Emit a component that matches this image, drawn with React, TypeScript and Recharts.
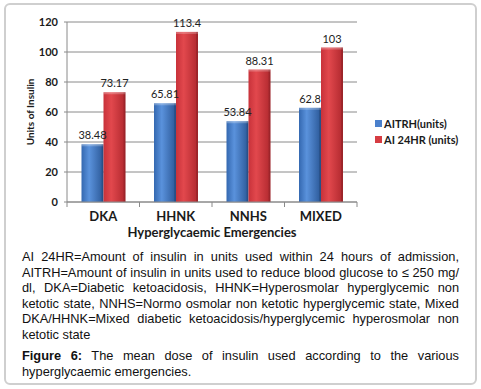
import { BarChart, Bar, XAxis, YAxis, CartesianGrid, LabelList, Label } from "recharts";

const categories = ["DKA", "HHNK", "NNHS", "MIXED"];
const aitrh = [38.48, 65.81, 53.84, 62.8];
const ai24hr = [73.17, 113.4, 88.31, 103];
const yTicks = [0, 20, 40, 60, 80, 100, 120];
const seriesNames = ["AITRH(units)", "AI 24HR (units)"];
const seriesColors = ["#4a80cc", "#d63c42"];

const data = categories.map((c, i) => ({ name: c, aitrh: aitrh[i], ai24hr: ai24hr[i] }));

const noteLines = [
  "AI 24HR=Amount of insulin in units used within 24 hours of admission,",
  "AITRH=Amount of insulin in units used to reduce blood glucose to ≤ 250 mg/",
  "dl, DKA=Diabetic ketoacidosis, HHNK=Hyperosmolar hyperglycemic non",
  "ketotic state, NNHS=Normo osmolar non ketotic hyperglycemic state, Mixed",
  "DKA/HHNK=Mixed diabetic ketoacidosis/hyperglycemic hyperosmolar non",
  "ketotic state",
];

const chartFont = "Lato, 'Open Sans', sans-serif";
const textFont = "'Liberation Sans', Arial, sans-serif";
const BAND = 290 / categories.length;

const CategoryTick = (props: any) => {
  const { x, y, payload, index } = props;
  const left = x - BAND / 2;
  return (
    <g>
      <line x1={left} x2={left} y1={y} y2={y + 5} stroke="#8a8a8a" />
      {index === categories.length - 1 && (
        <line x1={x + BAND / 2} x2={x + BAND / 2} y1={y} y2={y + 5} stroke="#8a8a8a" />
      )}
      <text x={x} y={y + 19} textAnchor="middle" fontFamily={chartFont} fontSize={13} fontWeight={700} fill="#1a1a1a">
        {payload.value}
      </text>
    </g>
  );
};

const Bar3D = (props: any) => {
  const { x, y, width, height, fill } = props;
  if (!height) return null;
  return (
    <g>
      <rect x={x} y={y} width={width} height={height} fill={fill} />
      <rect x={x} y={y} width={width} height={2} fill="#ffffff" fillOpacity={0.25} />
      <rect x={x + width - 2} y={y} width={2} height={height} fill="#000000" fillOpacity={0.12} />
    </g>
  );
};

const lineStyle = (last: boolean) => ({
  whiteSpace: "nowrap" as const,
  textAlign: (last ? "left" : "justify") as any,
  textAlignLast: (last ? "left" : "justify") as any,
});

export default function App() {
  return (
    <div style={{ position: "absolute", left: 0, top: 0, width: 481, height: 389, background: "#fff" }}>
      <div
        style={{
          position: "absolute",
          left: 4,
          top: 3,
          width: 469,
          height: 378,
          border: "2px solid #cfcfcf",
          borderRadius: 6,
        }}
      />
      <div style={{ position: "absolute", left: 0, top: 0 }}>
        <BarChart
          width={481}
          height={245}
          data={data}
          margin={{ top: 22, right: 124, bottom: 5, left: 37 }}
          barGap={0}
          barCategoryGap="20%"
        >
          <defs>
            <linearGradient id="blueGrad" x1="0" y1="0" x2="1" y2="0">
              <stop offset="0%" stopColor="#3468b0" />
              <stop offset="35%" stopColor="#5a92dc" />
              <stop offset="100%" stopColor="#2b5897" />
            </linearGradient>
            <linearGradient id="redGrad" x1="0" y1="0" x2="1" y2="0">
              <stop offset="0%" stopColor="#c8323a" />
              <stop offset="35%" stopColor="#e2484d" />
              <stop offset="100%" stopColor="#b0282e" />
            </linearGradient>
          </defs>
          <CartesianGrid vertical={false} stroke="#8a8a8a" />
          <XAxis
            dataKey="name"
            height={38}
            stroke="#8a8a8a"
            tickLine={false}
            tickSize={0}
            tickMargin={0}
            tick={<CategoryTick />}
            interval={0}
          >
            <Label
              value="Hyperglycaemic Emergencies"
              position="insideBottom"
              offset={3}
              style={{ fontFamily: chartFont, fontSize: 13, fontWeight: 700, fill: "#1a1a1a" }}
            />
          </XAxis>
          <YAxis
            width={30}
            domain={[0, 120]}
            ticks={yTicks}
            stroke="#8a8a8a"
            tickSize={3}
            tickMargin={6}
            tick={{ fontFamily: chartFont, fontSize: 11, fontWeight: 700, fill: "#1a1a1a" }}
          >
            <Label
              value="Units of Insulin"
              angle={-90}
              position="center"
              dx={-22}
              style={{ fontFamily: chartFont, fontSize: 10, fontWeight: 700, fill: "#1a1a1a" }}
            />
          </YAxis>
          <Bar dataKey="aitrh" name={seriesNames[0]} fill="url(#blueGrad)" shape={<Bar3D />} isAnimationActive={false}>
            <LabelList dataKey="aitrh" position="top" style={{ fontFamily: chartFont, fontSize: 11, fill: "#222" }} />
          </Bar>
          <Bar dataKey="ai24hr" name={seriesNames[1]} fill="url(#redGrad)" shape={<Bar3D />} isAnimationActive={false}>
            <LabelList dataKey="ai24hr" position="top" style={{ fontFamily: chartFont, fontSize: 11, fill: "#222" }} />
          </Bar>
        </BarChart>
      </div>
      <div
        style={{
          position: "absolute",
          left: 375,
          top: 115,
          fontFamily: chartFont,
          fontSize: 11,
          fontWeight: 700,
          color: "#1a1a1a",
        }}
      >
        {seriesNames.map((n, i) => (
          <div key={n} style={{ display: "flex", alignItems: "center", height: 16 }}>
            <span style={{ width: 7, height: 7, background: seriesColors[i], marginRight: 2, display: "inline-block" }} />
            {n}
          </div>
        ))}
      </div>
      <div
        style={{
          position: "absolute",
          left: 22,
          top: 249,
          width: 437,
          fontFamily: textFont,
          fontSize: 12.8,
          lineHeight: "15.5px",
          color: "#111",
        }}
      >
        {noteLines.map((l, i) => (
          <div key={i} style={lineStyle(i === noteLines.length - 1)}>
            {l}
          </div>
        ))}
        <div style={{ marginTop: 6, ...lineStyle(false) }}>
          <b>Figure 6:</b> The mean dose of insulin used according to the various
        </div>
        <div style={lineStyle(true)}>hyperglycaemic emergencies.</div>
      </div>
    </div>
  );
}
